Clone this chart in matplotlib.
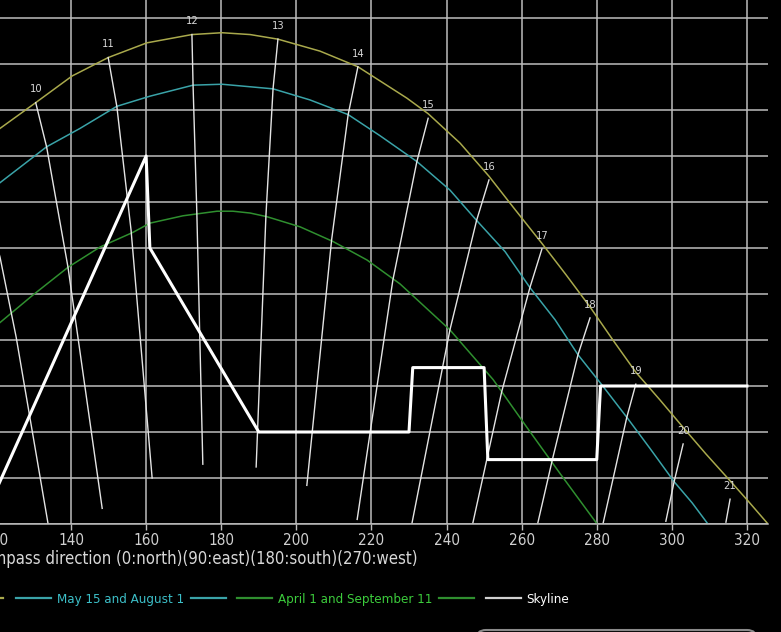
import matplotlib
matplotlib.use("Agg")
import matplotlib.pyplot as plt
from matplotlib import font_manager
from matplotlib.lines import Line2D
from matplotlib.patches import FancyBboxPatch
from matplotlib.transforms import IdentityTransform

names = {f.name for f in font_manager.fontManager.ttflist}
if "Liberation Sans Narrow" in names:
    plt.rcParams["font.family"] = ["Liberation Sans Narrow", "DejaVu Sans"]
else:
    plt.rcParams["font.family"] = ["DejaVu Sans"]
    plt.rcParams["font.stretch"] = "condensed"

# sun path: June 21 (yellow)
june_az = [113.1, 121.1, 130.6, 140.3, 149.9, 160.2, 172.2, 180.2, 187.7, 195.1,
           206.3, 216.4, 229.4, 235.1, 243.6, 251.3, 258.2, 265.4, 271.8, 278.2,
           284.3, 290.4, 296.8, 303.0, 309.1, 315.5, 320.3, 325.6]
june_alt = [40.4, 43.0, 45.8, 48.7, 50.7, 52.3, 53.2, 53.4, 53.2, 52.7,
            51.4, 49.7, 46.3, 44.6, 41.4, 37.8, 34.2, 30.5, 27.1, 23.6,
            20.0, 16.5, 13.5, 10.5, 7.6, 4.7, 2.5, 0.0]

# May 15 and August 1 (cyan)
may_az = [113.1, 121.1, 133.5, 142.4, 152.2, 161.0, 172.5, 180.2, 193.8, 203.6,
          213.8, 222.3, 232.1, 240.9, 248.0, 255.6, 262.2, 268.9, 275.0, 281.6,
          288.0, 294.2, 300.6, 305.4, 309.6]
may_alt = [34.6, 37.1, 41.0, 43.0, 45.4, 46.5, 47.7, 47.8, 47.3, 46.1,
           44.5, 42.2, 39.4, 36.3, 33.0, 29.6, 25.7, 22.2, 18.4, 15.0,
           11.6, 8.2, 4.6, 2.3, 0.0]

# April 1 and September 11 (green)
apr_az = [113.1, 121.1, 129.9, 139.2, 147.7, 156.5, 161.0, 169.8, 178.9, 183.1,
          187.7, 192.2, 201.0, 209.8, 218.8, 227.6, 240.9, 252.4, 261.4, 270.2, 280.1]
apr_alt = [19.1, 21.9, 24.9, 27.9, 30.1, 31.7, 32.7, 33.5, 34.0, 34.0,
           33.8, 33.4, 32.3, 30.7, 28.7, 26.1, 21.1, 15.7, 10.5, 5.5, 0.0]

# hour lines (top point first)
hours = [9, 10, 11, 12, 13, 14, 15, 16, 17, 18, 19, 20, 21]
hour_az = [
    [113.1, 121.1, 125.4, 133.9],
    [130.6, 133.5, 139.2, 148.3],
    [149.9, 152.2, 156.0, 161.6],
    [172.2, 172.5, 173.5, 175.1],
    [195.1, 193.8, 191.9, 189.3],
    [216.4, 213.8, 209.4, 202.8],
    [235.1, 232.1, 225.7, 216.2],
    [251.3, 248.0, 240.9, 230.8],
    [265.4, 262.2, 254.7, 247.0],
    [278.2, 275.0, 268.3, 264.3],
    [290.4, 288.0, 281.7],
    [303.0, 300.6, 298.4],
    [315.5, 314.4],
]
hour_alt = [
    [40.4, 29.0, 20.3, 0.0],
    [45.8, 41.0, 27.9, 1.7],
    [50.7, 45.4, 31.9, 5.0],
    [53.2, 47.7, 33.9, 6.5],
    [52.7, 47.3, 33.5, 6.2],
    [49.7, 44.5, 30.9, 4.2],
    [44.1, 39.4, 26.5, 0.5],
    [37.4, 33.0, 21.1, 0.1],
    [29.9, 25.7, 14.4, 0.1],
    [22.4, 18.4, 7.2, 0.1],
    [15.2, 11.6, 0.1],
    [8.7, 4.6, 0.3],
    [2.7, 0.2],
]

skyline_az = [116, 160, 161, 190, 230, 231, 250, 251, 280, 281, 320]
skyline_alt = [0, 40, 30, 10, 10, 17, 17, 7, 7, 15, 15]

xticks = list(range(100, 330, 20))
yticks = list(range(0, 61, 5))

yellow = "#a9a94c"
cyan = "#3aa3a8"
green = "#2f8f2f"
grid_c = "#bdbdbd"
hour_c = "#e4e4e4"

W, H = 781, 632
fig = plt.figure(figsize=(W / 100, H / 100), dpi=100, facecolor="black")
# axes extends off the left/top edges (cropped view)
ax = fig.add_axes([-79.2 / W, 108 / H, 847.2 / W, 552 / H])
ax.set_facecolor("black")
ax.set_xlim(100, 325.6)
ax.set_ylim(0, 60)
ax.set_xticks(xticks)
ax.set_yticks(yticks)
ax.grid(True, color=grid_c, lw=1.1)
ax.set_axisbelow(True)
for s in ["top", "right", "left"]:
    ax.spines[s].set_visible(False)
ax.spines["bottom"].set_color(grid_c)
ax.spines["bottom"].set_linewidth(1.1)
ax.tick_params(axis="x", colors="#d0d0d0", labelsize=11, length=4, width=1, pad=2.5)
ax.tick_params(axis="x", color=grid_c)
ax.tick_params(axis="y", left=False, labelleft=False)

ax.plot(june_az, june_alt, color=yellow, lw=1.1)
ax.plot(may_az, may_alt, color=cyan, lw=1.1)
ax.plot(apr_az, apr_alt, color=green, lw=1.1)

for h, az, alt in zip(hours, hour_az, hour_alt):
    ax.plot(az, alt, color=hour_c, lw=1.0)
    ax.annotate(str(h), (az[0], alt[0]), xytext=(0, 9.5), textcoords="offset points",
                ha="center", va="center", fontsize=8, color="#d8d8d8")

ax.plot(skyline_az, skyline_alt, color="white", lw=2.2)

ax.set_xlabel("Compass direction (0:north)(90:east)(180:south)(270:west)",
              fontsize=12, color="#d8d8d8", ha="right", va="center")
ax.xaxis.set_label_coords((418 + 79.2) / 847.2, (524 - 559) / 552)

# legend row below the chart
fig.canvas.draw()
renderer = fig.canvas.get_renderer()


def fx(px):
    return px / W


def fy(py):
    return 1 - py / H


ly = 598


def seg(x0, x1, c):
    fig.add_artist(Line2D([fx(x0), fx(x1)], [fy(ly), fy(ly)], color=c, lw=1.6))


seg(-32, 3, yellow)
fig.text(fx(-4), fy(ly + 1), "June 21", color="#c8c850", fontsize=9.5, ha="right", va="center")

items = [("May 15 and August 1", cyan, "#3cbfc8", True),
         ("April 1 and September 11", green, "#3ccc3c", True),
         ("Skyline", "#d0d0d0", "white", False)]
x = 16
for label, lc, tc, trail in items:
    seg(x, x + 35, lc)
    x += 35 + 6
    t = fig.text(fx(x), fy(ly + 1), label, color=tc, fontsize=9.5, ha="left", va="center")
    x += t.get_window_extent(renderer).width + 7
    if trail:
        seg(x, x + 35, lc)
        x += 35 + 11

# partially visible button at the bottom edge
fig.add_artist(FancyBboxPatch((476, -14), 281, 16, boxstyle="round,pad=0,rounding_size=10",
                              transform=IdentityTransform(), edgecolor="#8a8a8a",
                              facecolor="#080808", lw=1.5))

fig.savefig("out.png", dpi=100, facecolor="black")
